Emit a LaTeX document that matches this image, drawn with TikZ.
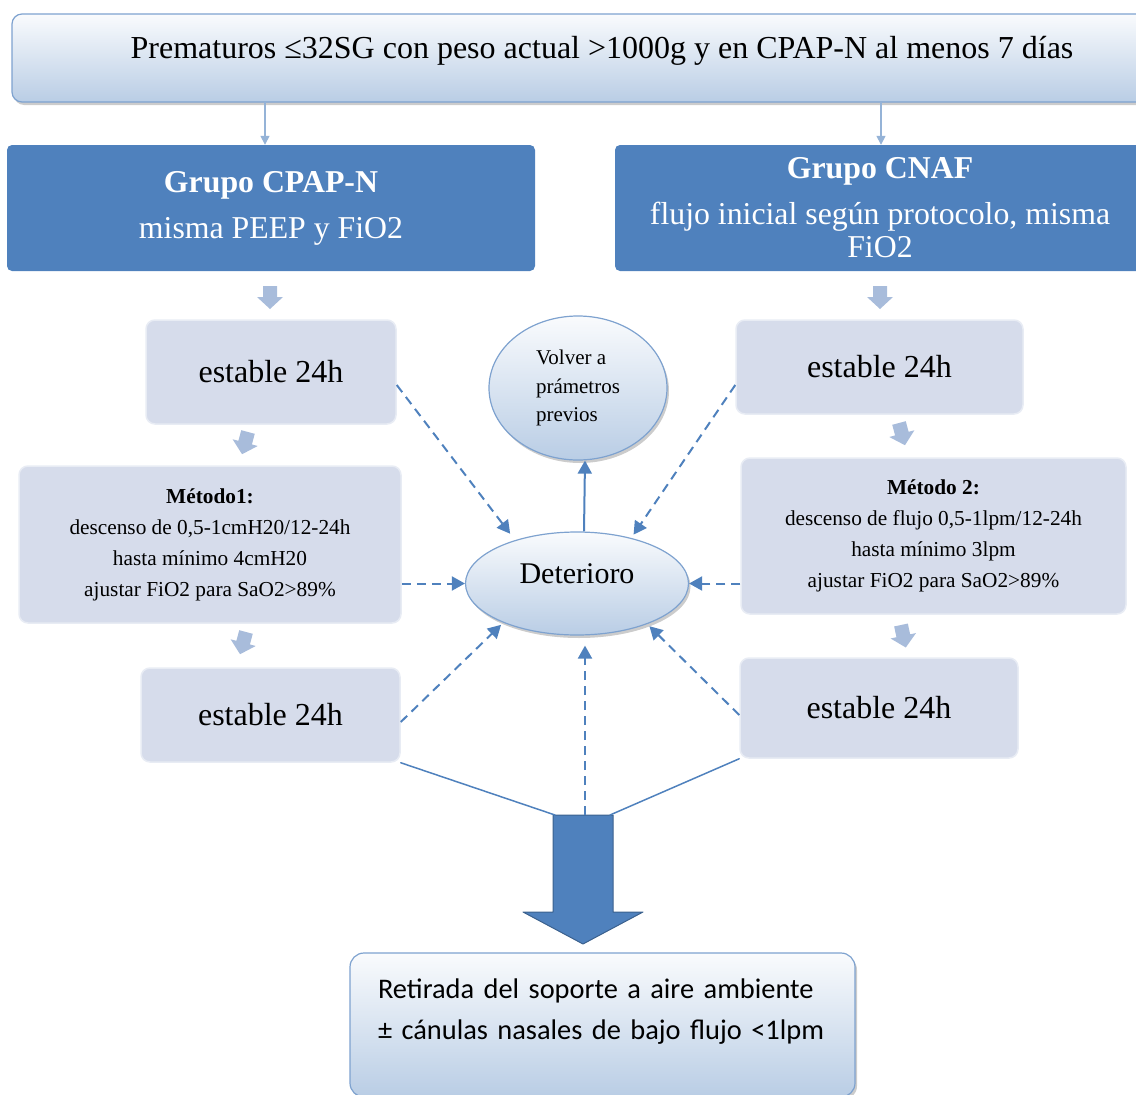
\documentclass[tikz,border=0pt]{standalone}
\usepackage{fontspec}
\setmainfont{Liberation Serif}
\newfontfamily\calibri{Carlito}
\usetikzlibrary{shapes.geometric,shadows,arrows.meta}

\definecolor{grpblue}{HTML}{4F81BD}
\definecolor{cajafondo}{HTML}{D6DCEB}
\definecolor{bloqueazul}{HTML}{A8BCDB}
\definecolor{paleblue}{HTML}{B9CDE5}
\definecolor{bordeazul}{HTML}{7EA2CF}
\definecolor{lineaclara}{HTML}{95B3D7}

\tikzset{
	bloque/.pic={\fill[bloqueazul] (-7,0) -- (7,0) -- (7,11) -- (13,11) -- (0,23) -- (-13,11) -- (-7,11) -- cycle;}
}

\begin{document}
\begin{tikzpicture}[x=1pt, y=-1pt, line join=round, line cap=round,
	grupo/.style={fill=grpblue, rounded corners=5pt, text=white, align=center, inner sep=0pt, font=\fontsize{31.8}{33}\selectfont},
	caja/.style={fill=cajafondo, draw=cajafondo!55!white, line width=1.5pt, rounded corners=9pt, align=center, inner sep=0pt},
	degradado/.style={top color=white!92!paleblue, bottom color=paleblue, draw=bordeazul, line width=1.2pt, drop shadow={shadow xshift=2pt, shadow yshift=-3pt, fill=black!40}},
	ovalo/.style={degradado, ellipse, inner sep=0pt},
	guion/.style={-{Triangle[length=13pt,width=14pt]}, grpblue, line width=2pt, line cap=butt, dash pattern=on 9pt off 6pt},
	linea/.style={grpblue, line width=1.5pt}]
	\useasboundingbox (0,0) rectangle (1136,1095);
	% Cabecera
	\node[degradado, rounded corners=10pt, inner sep=0pt, minimum width=1180pt, minimum height=88pt, text height=21pt, text depth=21pt, font=\fontsize{32}{36}\selectfont] (top) at (602,58) {Prematuros ≤32SG con peso actual >1000g y en CPAP-N al menos 7 días};
	% Grupos
	\node[grupo, minimum width=528pt, minimum height=126pt] (cpap) at (271,208) {\textbf{Grupo CPAP-N}\\[13pt]misma PEEP y FiO2};
	\node[grupo, minimum width=530pt, minimum height=126pt] (cnaf) at (880,208) {\textbf{Grupo CNAF}\\[13pt]flujo inicial según protocolo, misma\\FiO2};
	\draw[-{Triangle[length=9pt,width=9pt]}, lineaclara, line width=1.5pt] (top.south -| 265,0) -- (cpap.north -| 265,0);
	\draw[-{Triangle[length=9pt,width=9pt]}, lineaclara, line width=1.5pt] (top.south -| 881,0) -- (cnaf.north -| 881,0);
	% Rama izquierda
	\node[caja, minimum width=250pt, minimum height=104pt, font=\fontsize{32}{36}\selectfont] (est1) at (271,372) {estable 24h};
	\node[caja, minimum width=382pt, minimum height=157pt, font=\fontsize{21.3}{31}\selectfont] (met1) at (210,544.5) {\textbf{Método1:}\\descenso de 0,5-1cmH20/12-24h\\hasta mínimo 4cmH20\\ajustar FiO2 para SaO2>89\%};
	\node[caja, minimum width=259pt, minimum height=94pt, font=\fontsize{32}{36}\selectfont] (est3) at (270.5,715) {estable 24h};
	% Rama derecha
	\node[caja, minimum width=287pt, minimum height=94pt, font=\fontsize{32}{36}\selectfont] (est4) at (879.5,367) {estable 24h};
	\node[caja, minimum width=385pt, minimum height=156pt, font=\fontsize{21.3}{31}\selectfont] (met2) at (933.5,536) {\textbf{Método 2:}\\descenso de flujo 0,5-1lpm/12-24h\\hasta mínimo 3lpm\\ajustar FiO2 para SaO2>89\%};
	\node[caja, minimum width=278pt, minimum height=100pt, font=\fontsize{32}{36}\selectfont] (est6) at (879,708) {estable 24h};
	% Flechas pequeñas
	\pic at (270,286) {bloque};
	\pic[rotate=-15] at (248,432) {bloque};
	\pic[rotate=-15] at (246,632) {bloque};
	\pic at (880,286) {bloque};
	\pic[rotate=15] at (899,423) {bloque};
	\pic[rotate=12] at (901,625) {bloque};
	% Centro
	\node[ovalo, minimum width=178pt, minimum height=144pt, align=left, font=\fontsize{21}{28.5}\selectfont] (volver) at (578,388) {Volver a\\prámetros\\previos};
	\node[ovalo, minimum width=223pt, minimum height=103pt, text height=20pt, text depth=20pt, font=\fontsize{30}{34}\selectfont] (det) at (577,583.5) {Deterioro};
	\draw[-{Triangle[length=13pt,width=14pt]}, grpblue, line width=2pt, line cap=butt] ([xshift=7pt]det.north) -- ([xshift=7pt]volver.south);
	\draw[guion, shorten >=8pt] ([yshift=-13pt]est1.east) -- (det.145);
	\draw[guion, shorten >=4pt] ([yshift=-18pt]est4.west) -- (det.40);
	\draw[guion] (met1.east |- det.west) -- (det.west);
	\draw[guion] (met2.west |- det.east) -- (det.east);
	\draw[guion, shorten >=3pt] ([yshift=-7pt]est3.east) -- (det.208);
	\draw[guion, shorten >=3pt] ([yshift=-7pt]est6.west) -- (det.330);
	% Flecha grande
	\coordinate (flechaL) at (555,815);
	\coordinate (flechaR) at (610,815);
	\coordinate (flechaC) at (585,815);
	\filldraw[fill=grpblue, draw=grpblue!75!black, line width=1pt] (553,815) -- (613,815) -- (613,912) -- (643,912) -- (583,944) -- (523,912) -- (553,912) -- cycle;
	\draw[linea] (est3.south east) -- (flechaL);
	\draw[linea] (est6.south west) -- (flechaR);
	\draw[guion, shorten >=10pt] (flechaC) -- (det.south -| flechaC);
	% Final
	\node[degradado, rounded corners=14pt, inner sep=0pt, minimum width=505pt, minimum height=144pt, text width=449pt, align=left, text depth=72pt, font=\calibri\fontsize{28.4}{41}\selectfont] (fin) at (602.5,1025) {Retirada del soporte a aire ambiente\\± cánulas nasales de bajo flujo <1lpm};
\end{tikzpicture}
\end{document}
